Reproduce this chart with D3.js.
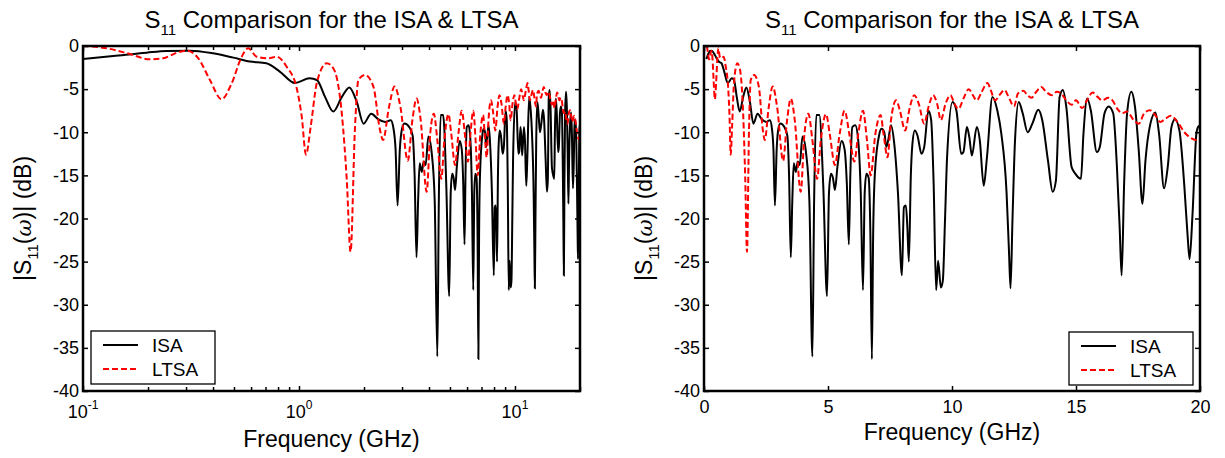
<html>
<head><meta charset="utf-8"></head>
<script src="https://d3js.org/d3.v7.min.js"></script>
<body style="margin:0; background:#fff;">

<svg id="chart" width="1225" height="458"></svg>

<script>
    // S11 traces (GHz, dB)
    let isaFreq = [0.1, 0.138, 0.197, 0.244, 0.312, 0.40, 0.497, 0.593, 0.706, 0.815, 0.958, 1.12, 1.21, 1.32, 1.44, 1.58, 1.71, 1.85, 1.99,
        2.16, 2.33, 2.51, 2.66, 2.74, 2.80, 2.86, 2.93, 3.0, 3.08, 3.24, 3.36, 3.43, 3.50, 3.56, 3.62, 3.70, 3.78, 3.86, 3.97,
        4.12, 4.25, 4.37, 4.44, 4.53, 4.65, 4.81, 4.96, 5.04, 5.12, 5.20, 5.28, 5.38, 5.55, 5.67, 5.76, 5.84, 5.90, 5.98,
        6.10, 6.22, 6.32, 6.41, 6.48, 6.55, 6.64, 6.71, 6.77, 6.82, 6.89, 7.07, 7.16, 7.27, 7.35, 7.43, 7.54, 7.67, 7.82, 7.98,
        8.06, 8.14, 8.20, 8.26, 8.34, 8.40, 8.50, 8.61, 8.77, 8.88, 9.05, 9.16, 9.26, 9.36, 9.44, 9.55, 9.63, 9.72, 9.80,
        10.02, 10.18, 10.37, 10.46, 10.60, 10.70, 10.80, 11.00, 11.12, 11.28, 11.41, 11.63, 11.83, 11.99, 12.20, 12.30, 12.36,
        12.44, 12.54, 12.69, 12.85, 13.05, 13.24, 13.48, 13.64, 13.87, 14.06, 14.19, 14.34, 14.47, 14.61, 14.82, 14.97, 15.20,
        15.30, 15.45, 15.60, 15.84, 15.96, 16.15, 16.32, 16.50, 16.65, 16.76, 16.84, 16.94, 17.06, 17.23, 17.38, 17.53, 17.68,
        17.80, 18.00, 18.20, 18.35, 18.55, 18.70, 18.85, 18.99, 19.17, 19.37, 19.50, 19.58, 19.70, 19.86, 19.93, 20.0];
    let isaDb = [-1.5, -1.16, -0.77, -0.58, -0.54, -0.85, -1.35, -1.8, -2.0, -2.97, -4.3, -3.75, -3.94, -5.9, -7.6, -5.9, -4.8, -6.45, -9.0,
        -7.85, -8.5, -8.8, -8.6, -9.6, -12, -18.5, -12, -9.6, -9.0, -9.4, -10.4, -15, -24.5, -18, -13.6, -14.6, -13.4, -13.8, -10.5,
        -12.5, -18, -36, -18, -8.0, -8.0, -16.3, -29, -17, -14.8, -15.3, -16.7, -14, -11, -12, -16, -23, -15, -9.4,
        -9.2, -11, -17, -28.3, -17, -14.8, -15.3, -22, -36.3, -22, -14.8, -10.2, -9.6, -10.0, -11.7, -10.9, -9.2, -11.3, -17, -26.6,
        -18.7, -18.5, -21, -25, -15, -11.5, -9.8, -10.4, -12.5, -11.7, -7.5, -8.6, -16, -28.3, -24.9, -28, -27.2, -20, -13,
        -6.5, -7.5, -12.5, -12.3, -9.4, -10.6, -12.7, -9.4, -10.9, -16.2, -12.9, -5.9, -7.5, -10.2, -17, -24, -28.1,
        -20, -11, -6.5, -7.8, -10.0, -9.0, -7.4, -8.6, -13.3, -16.9, -15.6, -5.9, -5.1, -7.1, -14.0, -14.8, -15.4,
        -10.2, -6.1, -7.5, -12.3, -11.7, -7.8, -7.0, -7.8, -14.0, -21, -26.6, -16, -7.8, -5.3, -7.1, -12.1, -18.3,
        -13.3, -9.0, -7.7, -10.2, -16.5, -14.0, -9.4, -8.5, -9.8, -16.3, -22, -24.7, -19.4, -10, -9.35, -9.2];

    let ltsaFreq = [0.1, 0.129, 0.165, 0.204, 0.235, 0.272, 0.302, 0.342, 0.387, 0.438, 0.488, 0.543, 0.582, 0.637, 0.721, 0.789, 0.877,
        0.976, 1.03, 1.077, 1.133, 1.208, 1.343, 1.443, 1.578, 1.664, 1.733, 1.815, 1.884, 2.02, 2.21, 2.37, 2.45, 2.61, 2.77,
        2.95, 3.19, 3.35, 3.50, 3.66, 3.90, 4.05, 4.21, 4.37, 4.56, 4.71, 4.92, 5.07, 5.28, 5.47, 5.67, 5.86, 6.06, 6.22, 6.41,
        6.57, 6.72, 6.91, 7.12, 7.24, 7.40, 7.54, 7.75, 7.90, 8.11, 8.30, 8.48, 8.66, 8.88, 9.05, 9.24, 9.40, 9.55, 9.74, 9.94,
        10.10, 10.26, 10.46, 10.68, 10.84, 11.00, 11.20, 11.43, 11.56, 11.74, 11.91, 12.12, 12.25, 12.50, 12.66, 12.88, 13.04,
        13.20, 13.40, 13.60, 13.79, 14.03, 14.23, 14.40, 14.61, 14.82, 15.00, 15.25, 15.44, 15.67, 15.87, 16.05, 16.30, 16.47,
        16.67, 16.86, 17.06, 17.33, 17.53, 17.75, 17.98, 18.19, 18.40, 18.62, 18.82, 19.14, 19.37, 19.60, 19.84, 20.0];
    let ltsaDb = [0.0, -0.27, -0.93, -1.55, -1.43, -0.77, -0.54, -1.43, -3.94, -6.18, -4.33, -1.24, -0.27, -1.24, -1.43, -1.24, -2.4,
        -4.9, -8.2, -12.6, -9.35, -4.33, -2.0, -2.6, -7.8, -15.5, -23.85, -9.7, -3.94, -3.36, -4.7, -9.7, -10.9, -7.1, -4.7,
        -7.1, -13.3, -8.6, -6.1, -8.6, -16.9, -10.2, -7.85, -10.9, -15.4, -10.9, -7.9, -10.2, -13.8, -10.2, -7.5, -10.2, -13.4, -10.2, -7.5,
        -10.9, -15.0, -10.2, -8.0, -10.2, -12.9, -8.6, -6.3, -7.5, -9.8, -7.1, -5.7, -6.7, -9.0, -7.1, -5.7, -6.7, -8.6, -6.7, -5.7,
        -6.7, -7.3, -6.1, -5.0, -5.7, -6.3, -5.3, -4.3, -5.1, -6.3, -5.7, -5.1, -5.7, -7.0, -5.5, -5.2, -5.7,
        -6.0, -5.3, -4.75, -5.3, -5.7, -5.3, -5.5, -6.3, -6.8, -6.3, -7.2, -6.3, -5.4, -5.9, -6.3, -6.0, -6.3,
        -7.3, -7.8, -7.6, -8.6, -9.0, -7.8, -7.45, -8.0, -8.8, -8.4, -8.1, -9.0, -10.0, -10.6, -10.9, -10.9];

    let seriesNames = ["ISA", "LTSA"];
    let yTicks = [0, -5, -10, -15, -20, -25, -30, -35, -40];
    let linTicks = [0, 5, 10, 15, 20];
    let logMajor = [0.1, 1, 10];
    let logExp = ["-1", "0", "1"];

    let font = "'Liberation Sans', Arial, Helvetica, sans-serif";
    let svg = d3.select('#chart');
    let plotTop = 46, plotBottom = 391;

    let panels = [
        {id: 'a', log: true, x0: 83, x1: 580, legX: 91, legY: 331, yLabX: 31, xLabY: 447},
        {id: 'b', log: false, x0: 704, x1: 1200, legX: 1069, legY: 332, yLabX: 652, xLabY: 440}
    ];

    function drawPanel(p) {
        let x = p.log ? d3.scaleLog().domain([0.1, 20]).range([p.x0, p.x1])
            : d3.scaleLinear().domain([0, 20]).range([p.x0, p.x1]);
        let y = d3.scaleLinear().domain([-40, 0]).range([plotBottom, plotTop]);
        let g = svg.append('g');

        g.append('clipPath').attr('id', 'clip' + p.id)
            .append('rect')
            .attr('x', p.x0).attr('y', plotTop - 2)
            .attr('width', p.x1 - p.x0).attr('height', plotBottom - plotTop + 4);

        let line = d3.line()
            .x(d => x(d[0]))
            .y(d => y(d[1]))
            .curve(d3.curveMonotoneX);

        g.append('path')
            .datum(d3.zip(isaFreq, isaDb))
            .attr('clip-path', `url(#clip${p.id})`)
            .attr('fill', 'none')
            .attr('stroke', 'black')
            .attr('stroke-width', 2)
            .attr('d', line);

        g.append('path')
            .datum(d3.zip(ltsaFreq, ltsaDb))
            .attr('clip-path', `url(#clip${p.id})`)
            .attr('fill', 'none')
            .attr('stroke', '#ff0000')
            .attr('stroke-width', 2)
            .attr('stroke-dasharray', '6,3')
            .attr('d', line);

        // ticks point inward, on all four sides
        let xMajor = p.log ? logMajor : linTicks;
        let xMinor = p.log ? x.ticks().filter(t => !logMajor.includes(t)) : [];
        let plain = d => String(d);   // plain hyphen minus, like the original

        g.append('g').attr('transform', `translate(0,${plotBottom})`)
            .call(d3.axisBottom(x).tickValues(xMajor).tickSizeInner(-5).tickSizeOuter(0).tickPadding(9)
                .tickFormat(p.log ? '' : plain));
        g.append('g').attr('transform', `translate(0,${plotTop})`)
            .call(d3.axisTop(x).tickValues(xMajor).tickSizeInner(-5).tickSizeOuter(0).tickFormat(''));
        if (p.log) {
            g.append('g').attr('transform', `translate(0,${plotBottom})`)
                .call(d3.axisBottom(x).tickValues(xMinor).tickSizeInner(-4).tickSizeOuter(0).tickFormat(''));
            g.append('g').attr('transform', `translate(0,${plotTop})`)
                .call(d3.axisTop(x).tickValues(xMinor).tickSizeInner(-4).tickSizeOuter(0).tickFormat(''));

            logMajor.forEach((v, i) => {
                let t = g.append('text')
                    .attr('x', x(v)).attr('y', 418)
                    .attr('text-anchor', 'middle')
                    .style('font-family', font)
                    .style('font-size', '18px');
                t.append('tspan').text('10');
                t.append('tspan').attr('dy', -9).style('font-size', '12px').text(logExp[i]);
            });
        }
        g.append('g').attr('transform', `translate(${p.x0},0)`)
            .call(d3.axisLeft(y).tickValues(yTicks).tickSizeInner(-5).tickSizeOuter(0).tickPadding(4).tickFormat(plain));
        g.append('g').attr('transform', `translate(${p.x1},0)`)
            .call(d3.axisRight(y).tickValues(yTicks).tickSizeInner(-5).tickSizeOuter(0).tickFormat(''));

        g.selectAll('.domain').remove();
        g.selectAll('.tick line').attr('stroke', 'black').attr('stroke-width', 1.5);
        g.selectAll('.tick text')
            .attr('fill', 'black')
            .style('font-family', font)
            .style('font-size', '18px');

        g.append('rect')
            .attr('x', p.x0).attr('y', plotTop)
            .attr('width', p.x1 - p.x0).attr('height', plotBottom - plotTop)
            .attr('fill', 'none')
            .attr('stroke', 'black')
            .attr('stroke-width', 2.5);

        // title
        let cx = (p.x0 + p.x1) / 2;
        let title = g.append('text')
            .attr('x', cx).attr('y', 28)
            .attr('text-anchor', 'middle')
            .style('font-family', font)
            .style('font-size', '24px');
        title.append('tspan').text('S');
        title.append('tspan').attr('dy', 7).style('font-size', '15px').text('11');
        title.append('tspan').attr('dy', -7).text(' Comparison for the ISA & LTSA');

        // axis labels
        g.append('text')
            .attr('x', cx).attr('y', p.xLabY)
            .attr('text-anchor', 'middle')
            .style('font-family', font)
            .style('font-size', '23px')
            .text('Frequency (GHz)');

        let yl = g.append('text')
            .attr('transform', `translate(${p.yLabX},${(plotTop + plotBottom) / 2}) rotate(-90)`)
            .attr('text-anchor', 'middle')
            .style('font-family', font)
            .style('font-size', '23px');
        yl.append('tspan').text('|S');
        yl.append('tspan').attr('dy', 7).style('font-size', '15px').text('11');
        yl.append('tspan').attr('dy', -7).text('(');
        yl.append('tspan').style('font-family', "'DejaVu Serif', 'Liberation Serif', serif")
            .style('font-style', 'italic').style('font-size', '21px').text('\u03c9');
        yl.append('tspan').text(')| (dB)');

        // legend
        let leg = g.append('g').attr('transform', `translate(${p.legX},${p.legY})`);
        leg.append('rect')
            .attr('width', 124).attr('height', 53)
            .attr('fill', 'white')
            .attr('stroke', 'black')
            .attr('stroke-width', 1.3);
        seriesNames.forEach((name, i) => {
            leg.append('line')
                .attr('x1', 12).attr('x2', 47)
                .attr('y1', 14 + i * 24).attr('y2', 14 + i * 24)
                .attr('stroke', i === 0 ? 'black' : '#ff0000')
                .attr('stroke-width', 2)
                .attr('stroke-dasharray', i === 0 ? null : '6,3');
            leg.append('text')
                .attr('x', 61).attr('y', 21 + i * 24)
                .style('font-family', font)
                .style('font-size', '19px')
                .text(name);
        });
    }

    panels.forEach(drawPanel);
</script>

</body>
</html>
